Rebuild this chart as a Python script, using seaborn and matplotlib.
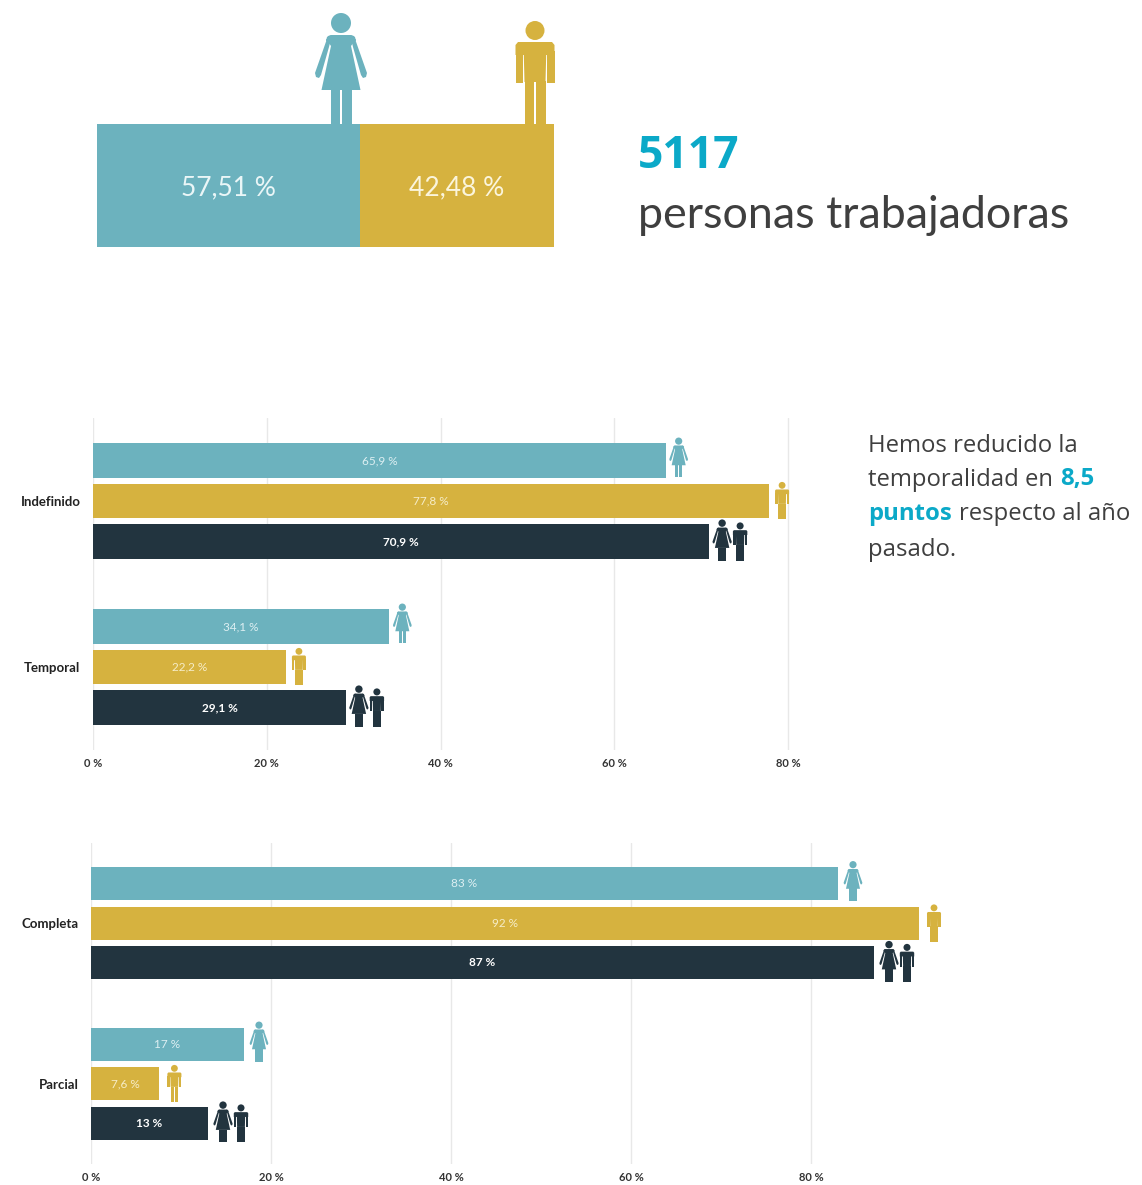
import matplotlib
matplotlib.use("Agg")
import matplotlib.pyplot as plt
import seaborn as sns
import pandas as pd
from matplotlib.patches import Polygon, Circle
from matplotlib.transforms import Affine2D

TEAL, GOLD, DARK = "#6CB2BE", "#D6B23F", "#22343F"
CYAN, GREY = "#0BA9C8", "#3F3F3F"
W, H = 1142, 1185

share_labels = ["Mujeres", "Hombres"]
share_values = [57.51, 42.48]
staff_total = "5117"

groups = ["Mujeres", "Hombres", "Total"]
contract_types = ["Indefinido", "Temporal"]
contract_women = [65.9, 34.1]
contract_men = [77.8, 22.2]
contract_total = [70.9, 29.1]

workday_types = ["Completa", "Parcial"]
workday_women = [83, 17]
workday_men = [92, 7.6]
workday_total = [87, 13]

axis_ticks = [0, 20, 40, 60, 80]

sns.set_theme(style="whitegrid", rc={"grid.color": "#E8E8E8", "grid.linewidth": 1.0,
                                     "axes.edgecolor": "white"})
plt.rcParams["font.family"] = ["Lato", "DejaVu Sans"]

fig = plt.figure(figsize=(W / 100, H / 100), dpi=100, facecolor="white")


def add_axes_px(x0, y0, x1, y1):
    return fig.add_axes([x0 / W, 1 - y1 / H, (x1 - x0) / W, (y1 - y0) / H])


def fmt(v):
    return f"{v:g}".replace(".", ",") + " %"


def icon(kind, px, py_bottom, scale, color, zorder=5):
    """Pictogram drawn in figure pixels: feet centred on (px, py_bottom)."""
    height = 111 if kind == "woman" else 103
    tr = (Affine2D().translate(0, -height).scale(scale, scale)
          .translate(px, py_bottom).scale(1, -1).translate(0, H)
          .scale(fig.dpi / 100))
    if kind == "woman":
        shapes = [
            [(-14, 24), (-10, 22), (10, 22), (14, 24), (15, 28), (-15, 28)],
            [(-15, 26), (15, 26), (10, 33), (19.5, 77), (-19.5, 77), (-10, 33)],
            [(9, 22), (13, 23), (26, 60), (25, 64), (22, 65), (20, 62), (12, 34)],
            [(-9, 22), (-13, 23), (-26, 60), (-25, 64), (-22, 65), (-20, 62), (-12, 34)],
            [(-10.5, 76), (-0.8, 76), (-0.8, 111), (-10.5, 111)],
            [(0.8, 76), (10.5, 76), (10.5, 111), (0.8, 111)],
        ]
        head = (0, 10, 10)
    else:
        shapes = [
            [(-17, 21), (17, 21), (19.5, 24), (19.5, 34), (-19.5, 34), (-19.5, 24)],
            [(-11.3, 30), (11.3, 30), (10.5, 61), (-10.5, 61)],
            [(-10.5, 60), (-0.7, 60), (-0.7, 103), (-10.5, 103)],
            [(0.7, 60), (10.5, 60), (10.5, 103), (0.7, 103)],
            [(-19.5, 30), (-12.3, 30), (-12.3, 62), (-19.5, 62)],
            [(19.5, 30), (12.3, 30), (12.3, 62), (19.5, 62)],
        ]
        head = (0, 9.5, 9.5)
    for pts in shapes:
        fig.add_artist(Polygon(pts, closed=True, fc=color, ec="none", transform=tr, zorder=zorder))
    fig.add_artist(Circle(head[:2], head[2], fc=color, ec="none", transform=tr, zorder=zorder))


# ---------- top split bar ----------
ax0 = add_axes_px(97, 124, 554, 247)
sns.barplot(x=[sum(share_values)], y=[0], orient="h", color=GOLD, width=1, saturation=1, linewidth=0,
            ax=ax0, native_scale=True)
sns.barplot(x=[share_values[0]], y=[0], orient="h", color=TEAL, width=1, saturation=1, linewidth=0,
            ax=ax0, native_scale=True)
ax0.set_xlim(0, sum(share_values))
ax0.set_ylim(0.5, -0.5)
ax0.axis("off")
ax0.text(share_values[0] / 2, 0.02, fmt(share_values[0]), color="#EAF6F7", fontsize=19,
         ha="center", va="center")
ax0.text(share_values[0] + share_values[1] / 2, 0.02, fmt(share_values[1]), color="#FBF5DC", fontsize=19,
         ha="center", va="center")
icon("woman", 341, 124, 1.0, TEAL)
icon("man", 535, 124, 1.0, GOLD)

# ---------- headline ----------
fig.text(638 / W, 1 - 156 / H, staff_total, color=CYAN, fontsize=32, fontweight="bold",
         ha="left", va="center", family="Open Sans")
fig.text(638 / W, 1 - 215 / H, "personas trabajadoras", color=GREY, fontsize=32.3,
         ha="left", va="center", family="Lato")


# ---------- grouped charts ----------
def grouped(ax, cats, women, men, total, x_per_unit, x0, y_center, y_step, width, gap, off):
    df = pd.DataFrame({
        "cat": cats * 3,
        "grupo": [g for g in groups for _ in cats],
        "valor": list(women) + list(men) + list(total),
    })
    sns.barplot(data=df, x="valor", y="cat", hue="grupo", hue_order=groups, order=cats, orient="h",
                palette=[TEAL, GOLD, DARK], width=width, gap=gap, saturation=1, linewidth=0,
                legend=False, ax=ax)
    ax.set_xlim(0, (ax.get_position().width * W) / x_per_unit)
    ax.set_ylim(1.5, -0.5)
    ax.set_xticks(axis_ticks)
    ax.set_xticklabels([fmt(t) for t in axis_ticks], fontsize=8, color="#333333", fontweight="bold")
    ax.set_yticks(range(len(cats)))
    ax.set_yticklabels(cats, fontsize=9.5, color="#222222", fontweight="bold")
    ax.set_xlabel("")
    ax.set_ylabel("")
    ax.grid(axis="y", visible=False)
    ax.grid(axis="x", visible=True)
    ax.set_axisbelow(True)
    ax.tick_params(axis="y", length=0, pad=9)
    ax.tick_params(axis="x", length=0, pad=6)
    for s in ax.spines.values():
        s.set_visible(False)
    for cont, vals, col, wgt in zip(ax.containers, (women, men, total),
                                    ("#DDEFF2", "#F6EDC8", "#FFFFFF"), ("normal", "normal", "bold")):
        ax.bar_label(cont, labels=[fmt(v) for v in vals], label_type="center", color=col,
                     fontsize=8.5, fontweight=wgt)
    for i in range(len(cats)):
        yc = y_center + i * y_step
        for j, (vals, color) in enumerate(zip((women, men, total), (TEAL, GOLD, DARK))):
            cy = yc + (j - 1) * y_step * width / 3
            xend = x0 + vals[i] * x_per_unit
            if j == 0:
                icon("woman", xend + off, cy + 17, 0.36, color)
            elif j == 1:
                icon("man", xend + off, cy + 18, 0.36, color)
            else:
                icon("woman", xend + off, cy + 19, 0.37, color)
                icon("man", xend + off + 18, cy + 19, 0.37, color)


ax1 = add_axes_px(93, 418, 830, 750)
grouped(ax1, contract_types, contract_women, contract_men, contract_total,
        8.69, 93, 501, 166, 0.732, 0.16, 13)

ax2 = add_axes_px(91, 843, 960, 1164)
grouped(ax2, workday_types, workday_women, workday_men, workday_total,
        9.0, 91, 923.5, 160.5, 0.738, 0.165, 15)

# ---------- side note ----------
note_font = dict(fontsize=17.2, va="center", ha="left", family="Open Sans")
fig.text(868 / W, 1 - 445.5 / H, "Hemos reducido la", color=GREY, **note_font)
t1 = fig.text(868 / W, 1 - 479.5 / H, "temporalidad en", color=GREY, **note_font)
r = fig.canvas.get_renderer()
fig.text(t1.get_window_extent(r).x1 / W + 0.0065, 1 - 479.5 / H, "8,5", color=CYAN, fontweight="bold", **note_font)
t2 = fig.text(868 / W, 1 - 514.5 / H, "puntos", color=CYAN, fontweight="bold", **note_font)
fig.text(t2.get_window_extent(r).x1 / W + 0.006, 1 - 514.5 / H, "respecto al año", color=GREY, **note_font)
fig.text(868 / W, 1 - 549.5 / H, "pasado.", color=GREY, **note_font)

fig.savefig("out.png", dpi=100, facecolor="white")
